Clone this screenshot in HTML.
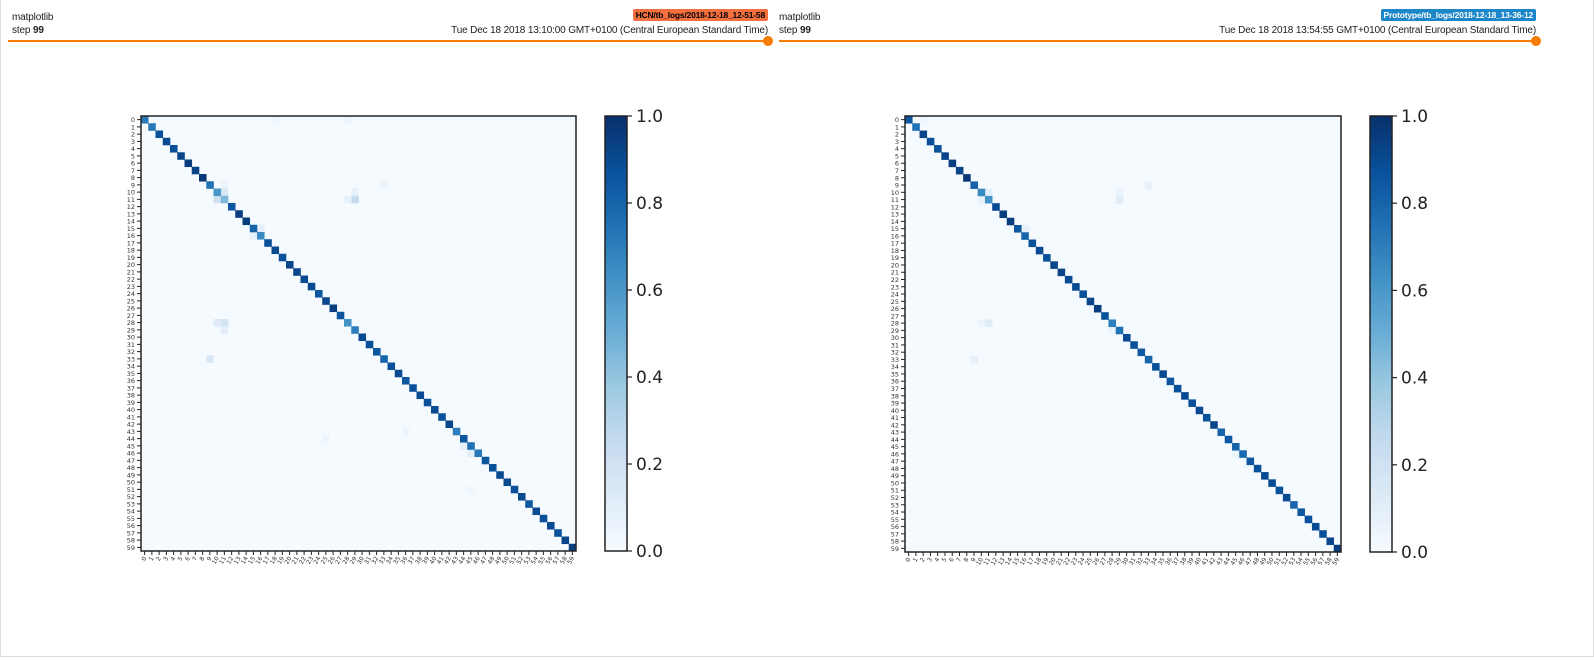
<!DOCTYPE html>
<html><head><meta charset="utf-8"><style>
body{margin:0;width:1594px;height:669px;background:#fff;font-family:"Liberation Sans",sans-serif;position:relative;overflow:hidden}
.frame{position:absolute;left:0;top:0;width:1592px;height:656px;border:1px solid #ddd;border-top:none}
.hdr{position:absolute;font-size:10px;letter-spacing:-0.15px;color:#212121}
.tag{position:absolute;font-size:8.5px;letter-spacing:-0.2px;font-weight:bold;color:#000;padding:1px 3px;border-radius:2px}
.line{position:absolute;height:2px;background:#f57c00}
.dot{position:absolute;width:10px;height:10px;border-radius:50%;background:#f57c00}
</style></head><body>
<div class="frame"></div>
<div class="hdr" style="left:12px;top:12px">matplotlib</div>
<div class="hdr" style="left:12px;top:25px">step <b>99</b></div>
<div class="tag" style="right:826px;top:9px;background:#f4703f">HCN/tb_logs/2018-12-18_12-51-58</div>
<div class="hdr" style="right:826px;top:25px">Tue Dec 18 2018 13:10:00 GMT+0100 (Central European Standard Time)</div>
<div class="line" style="left:8px;top:40px;width:760px"></div>
<div class="dot" style="left:763px;top:36px"></div>
<div class="hdr" style="left:779px;top:12px">matplotlib</div>
<div class="hdr" style="left:779px;top:25px">step <b>99</b></div>
<div class="tag" style="right:58px;top:9px;background:#1b86c8;color:#fff">Prototype/tb_logs/2018-12-18_13-36-12</div>
<div class="hdr" style="right:58px;top:25px">Tue Dec 18 2018 13:54:55 GMT+0100 (Central European Standard Time)</div>
<div class="line" style="left:779px;top:40px;width:757px"></div>
<div class="dot" style="left:1531px;top:36px"></div>
<svg id="svg" width="1594" height="669" style="position:absolute;left:0;top:0"></svg>
<script>
const N = 60;
const colorTicks = [0, 0.2, 0.4, 0.6, 0.8, 1.0];
const diagLeft = [0.72,0.72,0.88,0.9,0.88,0.92,0.95,0.93,0.97,0.75,0.6,0.45,0.85,0.95,0.95,0.8,0.65,0.88,0.9,0.88,0.92,0.92,0.9,0.9,0.85,0.92,0.95,0.85,0.62,0.7,0.9,0.88,0.85,0.8,0.88,0.9,0.85,0.88,0.9,0.88,0.9,0.88,0.92,0.7,0.85,0.75,0.72,0.85,0.88,0.9,0.9,0.88,0.9,0.85,0.9,0.88,0.9,0.88,0.92,0.95];
const diagRight = [0.85,0.75,0.92,0.88,0.88,0.92,0.95,0.92,0.97,0.8,0.65,0.62,0.9,0.95,0.95,0.85,0.8,0.88,0.9,0.88,0.92,0.92,0.9,0.9,0.88,0.92,0.95,0.88,0.7,0.75,0.9,0.88,0.85,0.8,0.88,0.9,0.85,0.88,0.9,0.88,0.9,0.88,0.92,0.8,0.85,0.8,0.78,0.85,0.88,0.9,0.9,0.88,0.9,0.8,0.85,0.88,0.9,0.88,0.92,0.95];
const offLeft = [[10,11,0.15],[11,10,0.2],[9,11,0.06],[10,29,0.08],[11,29,0.25],[11,28,0.08],[28,10,0.12],[28,11,0.18],[29,11,0.1],[33,9,0.15],[15,16,0.1],[16,15,0.08],[0,18,0.05],[0,28,0.05],[45,44,0.08],[46,45,0.1],[43,36,0.05],[9,33,0.06],[44,25,0.05],[51,45,0.04]];
const offRight = [[10,11,0.1],[11,10,0.08],[10,29,0.06],[11,29,0.12],[9,33,0.08],[28,10,0.06],[28,11,0.12],[33,9,0.08],[15,16,0.08],[0,2,0.05],[46,45,0.05],[29,28,0.06]];
const stops=[[247,251,255],[222,235,247],[198,219,239],[158,202,225],[107,174,214],[66,146,198],[33,113,181],[8,81,156],[8,48,107]];
function cmap(v){v=Math.max(0,Math.min(1,v))*8;const i=Math.min(7,Math.floor(v)),t=v-i;const a=stops[i],b=stops[i+1];return `rgb(${a.map((c,k)=>Math.round(c+(b[k]-c)*t)).join(',')})`;}
const svg=document.getElementById('svg');const NS='http://www.w3.org/2000/svg';
function mk(tag,attrs,parent){const e=document.createElementNS(NS,tag);for(const k in attrs)e.setAttribute(k,attrs[k]);(parent||svg).appendChild(e);return e;}
function panel(px,py,size,diag,off,cbx,side){
  const g=mk('g',{});
  
  
  const cs=size/N;
  const xs=i=>px+i*cs, ys=i=>py+i*cs;
  const bg=mk('rect',{x:px,y:py,width:size,height:size,fill:cmap(0.01)},g);
  
  
  off.forEach(([r,c,v])=>{const e=mk('rect',{x:xs(c),y:ys(r),width:cs+0.3,height:cs+0.3,fill:cmap(v)},g);
    
    });
  diag.forEach((v,i)=>{const e=mk('rect',{x:xs(i),y:ys(i),width:cs+0.3,height:cs+0.3,fill:cmap(v)},g);
    
    });
  mk('rect',{x:px,y:py,width:size,height:size,fill:'none',stroke:'#222','stroke-width':1.5},g);
  for(let i=0;i<N;i++){
    const y=ys(i+0.5),x=xs(i+0.5);
    mk('line',{x1:px-4,x2:px,y1:y,y2:y,stroke:'#222','stroke-width':1},g);
    mk('line',{x1:x,x2:x,y1:py+size,y2:py+size+4,stroke:'#222','stroke-width':1},g);
    const t=mk('text',{x:px-6,y:y+2.5,'font-size':6.5,'text-anchor':'end',fill:'#333','font-family':'DejaVu Sans'},g);t.textContent=i;
    
    
    const u=mk('text',{x:x+2,y:py+size+7,'font-size':6,'text-anchor':'end',fill:'#333','font-family':'DejaVu Sans',transform:`rotate(-60 ${x+2} ${py+size+7})`},g);u.textContent=i;
    
    
  }
  const cb=mk('g',{});
  
  
  const cw=22, steps=100;
  for(let k=0;k<steps;k++){mk('rect',{x:cbx,y:py+size-(k+1)*size/steps,width:cw,height:size/steps+0.5,fill:cmap((k+0.5)/steps)},cb);}
  mk('rect',{x:cbx,y:py,width:cw,height:size,fill:'none',stroke:'#222','stroke-width':1.5},cb);
  colorTicks.forEach(v=>{const y=py+size-v*size;
    mk('line',{x1:cbx+cw,x2:cbx+cw+5,y1:y,y2:y,stroke:'#222','stroke-width':1.2},cb);
    const t=mk('text',{x:cbx+cw+9,y:y+6,'font-size':17,fill:'#222','font-family':'DejaVu Sans'},cb);t.textContent=v.toFixed(1);
    
    });
}
panel(141,116,435,diagLeft,offLeft,605,'left');
panel(905,116,436,diagRight,offRight,1370,'right');
</script>
</body></html>
